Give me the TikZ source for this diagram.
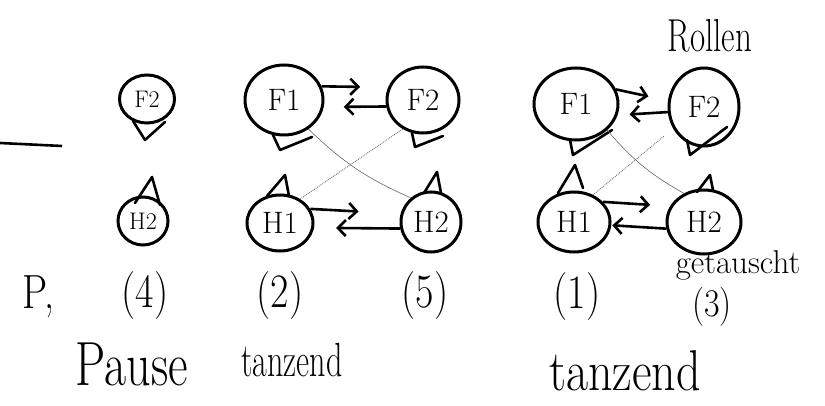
\documentclass[tikz,border=0pt]{standalone}
\usepackage{fontspec}
\usepackage{graphicx}
\usetikzlibrary{shapes.geometric,arrows.meta}
\newcommand{\fs}[1]{\fontsize{#1}{#1}\selectfont}
\newcommand{\tallbox}[2]{\scalebox{1}[#1]{#2}}
\begin{document}
\begin{tikzpicture}[x=1pt,y=-1pt,
  pers/.style={ellipse,draw,line width=3pt,inner sep=0pt,font=\fs{31}},
  spers/.style={ellipse,draw,line width=3pt,inner sep=0pt,font=\fs{24}},
  tri/.style={line width=2.6pt,line join=round,line cap=round},
  arr/.style={line width=2.6pt,-{Straight Barb[length=8pt,width=16pt]}},
  cross/.style={line width=0.6pt,black!60},
  dotcross/.style={line width=0.9pt,black!55,densely dotted},
  lbl/.style={inner sep=0pt,font=\fs{40}}]
\useasboundingbox (0,0) rectangle (825,406);
% left line
\coordinate (la) at (0,143);
\coordinate (lb) at (62,146);
\draw[line width=2.6pt] (la) -- (lb);
% small group
\node[spers,minimum width=55pt,minimum height=48pt] (sF2) at (147,99) {F2};
\node[spers,minimum width=50pt,minimum height=48pt] (sH2) at (143,221) {H2};
\draw[tri] (133,121) -- (145,140) -- (165,122);
\draw[tri] (135,203) -- (152,177) -- (160,205);
% middle group
\node[pers,minimum width=78pt,minimum height=70pt] (mF1) at (284,100) {F1};
\node[pers,minimum width=72pt,minimum height=66pt] (mF2) at (423,100) {F2};
\node[pers,minimum width=66pt,minimum height=56pt] (mH1) at (280,223) {H1};
\node[pers,minimum width=60pt,minimum height=60pt] (mH2) at (431,222) {H2};
\draw[tri] (273,135) -- (280,150) -- (312,137);
\draw[tri] (412,133) -- (415,147) -- (443,136);
\draw[tri] (267,196) -- (285,175) -- (289,196);
\draw[tri] (424,193) -- (437,172) -- (441,193);
\draw[arr,shorten >=28pt] (mF1.20) -- (mF2.160);
\draw[arr,shorten >=20pt] (mF2.190) -- (mF1.350);
\draw[arr,shorten >=42pt] (mH1.25) -- (mH2.165);
\draw[arr,shorten >=22pt] (mH2.192) -- (mH1.352);
\draw[cross] (mF1.310) to[bend right=10] (mH2.130);
\draw[dotcross] (mF2.235) -- (mH1.50);
% right group
\node[pers,minimum width=84pt,minimum height=72pt] (rF1) at (576,104) {F1};
\node[pers,minimum width=70pt,minimum height=78pt] (rF2) at (704,107) {F2};
\node[pers,minimum width=72pt,minimum height=60pt] (rH1) at (574,222) {H1};
\node[pers,minimum width=74pt,minimum height=64pt] (rH2) at (704,222) {H2};
\draw[tri] (570,140) -- (573,155) -- (612,130);
\draw[tri] (687,140) -- (690,155) -- (727,127);
\draw[tri] (558,193) -- (575,165) -- (583,188);
\draw[tri] (697,192) -- (710,175) -- (713,190);
\draw[arr,shorten >=20pt] (rF1.20) -- (rF2.170);
\draw[arr,shorten >=12pt] (rF2.188) -- (rF1.345);
\draw[arr,shorten >=20pt] (rH1.35) -- (rH2.155);
\draw[arr,shorten >=1pt] (rH2.190) -- (rH1.355);
\draw[cross] (rF1.320) to[bend right=10] (rH2.125);
\draw[dotcross,shorten <=12pt] (rF2.215) -- (rH1.55);
% texts
\node[inner sep=0pt,font=\fs{33}] (rollen) at (710,36) {\tallbox{1.4}{Rollen}};
\node[inner sep=0pt,font=\fs{33}] (getauscht) at (738,265) {getauscht};
\node[inner sep=0pt,font=\fs{34}] (n3) at (712,307) {\tallbox{1.15}{(3)}};
\node[lbl] (p) at (38,297) {\tallbox{1.2}{P,}};
\node[lbl] (n4) at (145,296) {\tallbox{1.2}{(4)}};
\node[lbl] (n2) at (280,296) {\tallbox{1.2}{(2)}};
\node[lbl] (n5) at (425,296) {\tallbox{1.2}{(5)}};
\node[lbl] (n1) at (577,297) {\tallbox{1.2}{(1)}};
\node[inner sep=0pt,font=\fs{48}] (pause) at (132,364) {\tallbox{1.3}{Pause}};
\node[inner sep=0pt,font=\fs{32}] (tanz1) at (292,360) {\tallbox{1.5}{tanzend}};
\node[inner sep=0pt,font=\fs{48}] (tanz2) at (625,371) {\tallbox{1.2}{tanzend}};
\end{tikzpicture}
\end{document}
